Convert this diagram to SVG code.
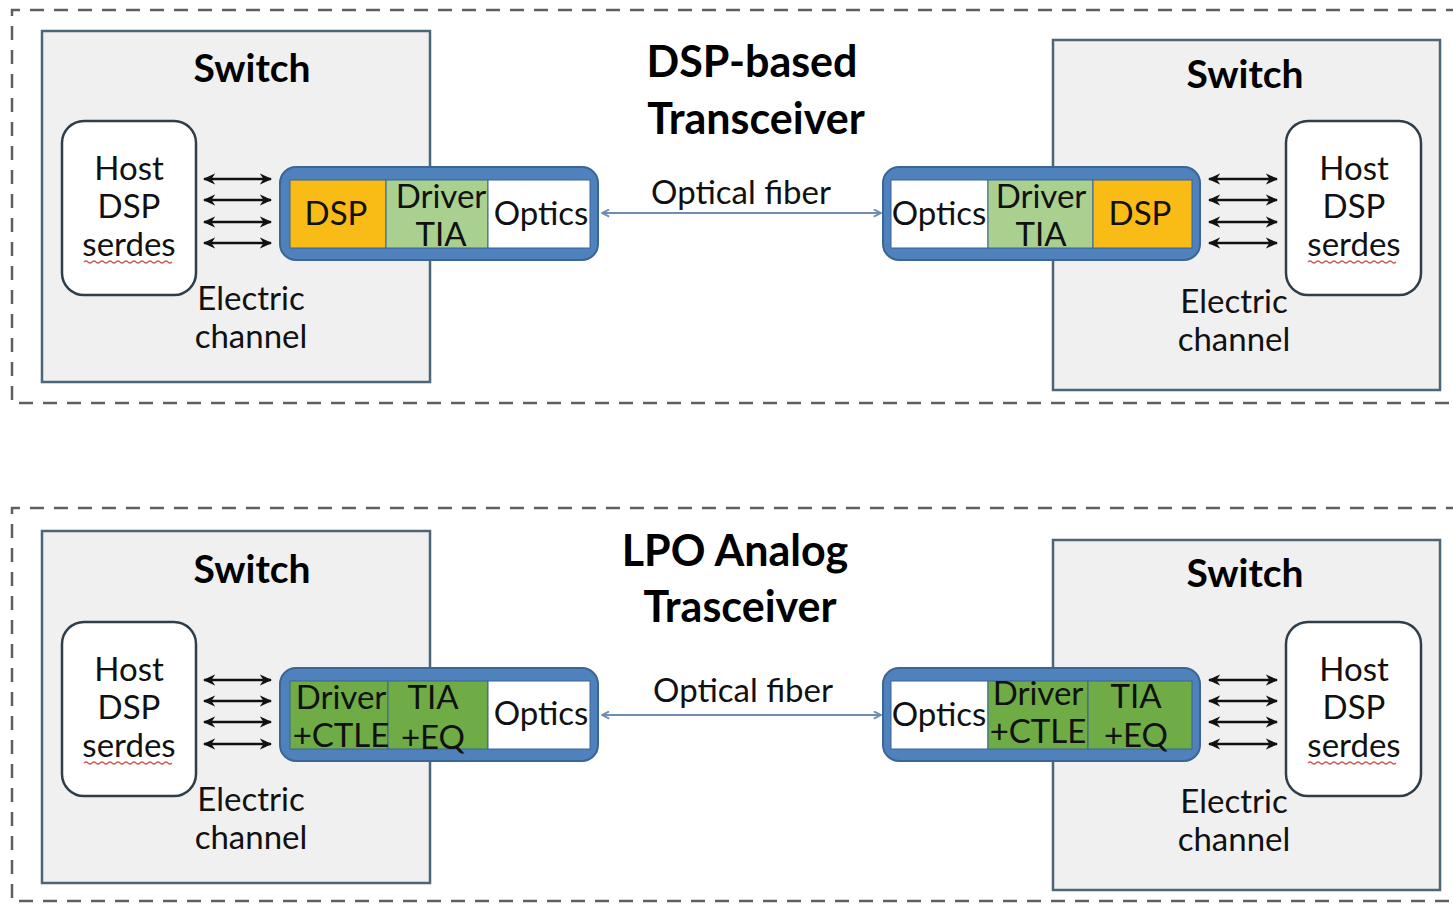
<svg xmlns="http://www.w3.org/2000/svg" width="1453" height="904" viewBox="0 0 1453 904">
<style>
.frame{fill:none;stroke:#5a5f63;stroke-width:2.5;stroke-dasharray:14 10}
.sw{fill:#f0f0f0;stroke:#4d6677;stroke-width:2.5}
.host{fill:#fff;stroke:#2e3e4a;stroke-width:2.5}
.tr{fill:#4f81bd;stroke:#3b6593;stroke-width:2}
.cell{stroke:#3b6593;stroke-width:1}
.dsp{fill:#f9bb16}
.lg{fill:#a9d08e}
.dg{fill:#6fac46}
.wh{fill:#fff}
.t{font-family:Lato,"Open Sans","Liberation Sans",sans-serif;fill:#111;text-anchor:middle;font-size:33px}
.b{font-weight:bold;fill:#000}
.h{font-size:43px}
.s{font-size:39px}
.el{stroke:#111;stroke-width:2.5;marker-start:url(#ah);marker-end:url(#ah)}
.of{stroke:#6d8eb0;stroke-width:1.8;marker-start:url(#oh);marker-end:url(#oh)}
.sq{fill:none;stroke:#d05a5a;stroke-width:1.3}
</style>
<defs>
<marker id="ah" viewBox="0 0 10 10" refX="9" refY="5" markerWidth="5" markerHeight="5" orient="auto-start-reverse" markerUnits="strokeWidth"><path d="M0,0.5 L10,5 L0,9.5 L3,5 Z" fill="#111"/></marker>
<marker id="oh" viewBox="0 0 10 10" refX="9" refY="5" markerWidth="5" markerHeight="5" orient="auto-start-reverse" markerUnits="strokeWidth"><path d="M1,1 L9,5 L1,9" fill="none" stroke="#6d8eb0" stroke-width="2"/></marker>
</defs>
<rect width="1453" height="904" fill="#fff"/>

<g id="frame-top"><path class="frame" d="M1460,10 H12 V403 H1460"/></g>
<g id="frame-bottom"><path class="frame" d="M1460,508 H12 V901 H1460"/></g>

<!-- TOP -->
<g id="title-top"><text class="t b h" x="752" y="77">DSP-based</text><text class="t b h" x="756" y="134">Transceiver</text></g>

<g id="switch-tl"><rect class="sw" x="42" y="31" width="388" height="351"/><text class="t b s" x="252" y="82">Switch</text></g>
<g id="host-tl"><rect class="host" x="62" y="121" width="134" height="174" rx="22"/>
<text class="t" x="129" y="180">Host</text><text class="t" x="129" y="218">DSP</text><text class="t" x="129" y="256">serdes</text>
<path class="sq" d="M84,262 q2,-2 4,0 t4,0 t4,0 t4,0 t4,0 t4,0 t4,0 t4,0 t4,0 t4,0 t4,0 t4,0 t4,0 t4,0 t4,0 t4,0 t4,0 t4,0 t4,0 t4,0 t4,0 t4,0"/></g>
<g id="elabel-tl"><text class="t" x="251" y="310">Electric</text><text class="t" x="251" y="348">channel</text></g>

<g id="trx-tl"><rect class="tr" x="280" y="167" width="318" height="93" rx="16"/>
<rect class="cell dsp" x="290" y="180" width="96" height="68"/><rect class="cell lg" x="386" y="180" width="102" height="68"/><rect class="cell wh" x="488" y="180" width="102" height="68"/>
<text class="t" x="336" y="225">DSP</text><text class="t" x="441" y="208">Driver</text><text class="t" x="441" y="246">TIA</text><text class="t" x="541" y="225">Optics</text></g>

<g id="switch-tr"><rect class="sw" x="1053" y="40" width="387" height="350"/><text class="t b s" x="1245" y="88">Switch</text></g>
<g id="host-tr"><rect class="host" x="1286" y="121" width="135" height="174" rx="22"/>
<text class="t" x="1354" y="180">Host</text><text class="t" x="1354" y="218">DSP</text><text class="t" x="1354" y="256">serdes</text>
<path class="sq" d="M1308,262 q2,-2 4,0 t4,0 t4,0 t4,0 t4,0 t4,0 t4,0 t4,0 t4,0 t4,0 t4,0 t4,0 t4,0 t4,0 t4,0 t4,0 t4,0 t4,0 t4,0 t4,0 t4,0 t4,0"/></g>
<g id="elabel-tr"><text class="t" x="1234" y="313">Electric</text><text class="t" x="1234" y="351">channel</text></g>

<g id="trx-tr"><rect class="tr" x="883" y="167" width="317" height="93" rx="16"/>
<rect class="cell wh" x="891" y="180" width="97" height="68"/><rect class="cell lg" x="988" y="180" width="105" height="68"/><rect class="cell dsp" x="1093" y="180" width="99" height="68"/>
<text class="t" x="939" y="225">Optics</text><text class="t" x="1041" y="208">Driver</text><text class="t" x="1041" y="246">TIA</text><text class="t" x="1140" y="225">DSP</text></g>

<g id="fiber-label-top"><text class="t" x="741" y="204">Optical fiber</text></g>

<!-- BOTTOM -->
<g id="title-bottom"><text class="t b h" x="735" y="566">LPO Analog</text><text class="t b h" x="740" y="622">Trasceiver</text></g>

<g id="switch-bl"><rect class="sw" x="42" y="531" width="388" height="352"/><text class="t b s" x="252" y="583">Switch</text></g>
<g id="host-bl"><rect class="host" x="62" y="622" width="134" height="174" rx="22"/>
<text class="t" x="129" y="681">Host</text><text class="t" x="129" y="719">DSP</text><text class="t" x="129" y="757">serdes</text>
<path class="sq" d="M84,763 q2,-2 4,0 t4,0 t4,0 t4,0 t4,0 t4,0 t4,0 t4,0 t4,0 t4,0 t4,0 t4,0 t4,0 t4,0 t4,0 t4,0 t4,0 t4,0 t4,0 t4,0 t4,0 t4,0"/></g>
<g id="elabel-bl"><text class="t" x="251" y="811">Electric</text><text class="t" x="251" y="849">channel</text></g>

<g id="trx-bl"><rect class="tr" x="280" y="668" width="318" height="93" rx="16"/>
<rect class="cell dg" x="290" y="681" width="98" height="68"/><rect class="cell dg" x="388" y="681" width="100" height="68"/><rect class="cell wh" x="488" y="681" width="102" height="68"/>
<text class="t" x="341" y="709">Driver</text><text class="t" x="341" y="747">+CTLE</text><text class="t" x="433" y="709">TIA</text><text class="t" x="433" y="749">+EQ</text><text class="t" x="541" y="725">Optics</text></g>

<g id="switch-br"><rect class="sw" x="1053" y="540" width="387" height="350"/><text class="t b s" x="1245" y="587">Switch</text></g>
<g id="host-br"><rect class="host" x="1286" y="622" width="135" height="174" rx="22"/>
<text class="t" x="1354" y="681">Host</text><text class="t" x="1354" y="719">DSP</text><text class="t" x="1354" y="757">serdes</text>
<path class="sq" d="M1308,763 q2,-2 4,0 t4,0 t4,0 t4,0 t4,0 t4,0 t4,0 t4,0 t4,0 t4,0 t4,0 t4,0 t4,0 t4,0 t4,0 t4,0 t4,0 t4,0 t4,0 t4,0 t4,0 t4,0"/></g>
<g id="elabel-br"><text class="t" x="1234" y="813">Electric</text><text class="t" x="1234" y="851">channel</text></g>

<g id="trx-br"><rect class="tr" x="883" y="668" width="317" height="93" rx="16"/>
<rect class="cell wh" x="891" y="681" width="97" height="68"/><rect class="cell dg" x="988" y="681" width="100" height="68"/><rect class="cell dg" x="1088" y="681" width="104" height="68"/>
<text class="t" x="939" y="726">Optics</text><text class="t" x="1038" y="705">Driver</text><text class="t" x="1038" y="743">+CTLE</text><text class="t" x="1136" y="708">TIA</text><text class="t" x="1136" y="747">+EQ</text></g>

<g id="fiber-label-bottom"><text class="t" x="743" y="702">Optical fiber</text></g>

<g id="connectors">
<line class="el" x1="204" y1="179" x2="271" y2="179"/><line class="el" x1="204" y1="200" x2="271" y2="200"/><line class="el" x1="204" y1="222" x2="271" y2="222"/><line class="el" x1="204" y1="243" x2="271" y2="243"/>
<line class="el" x1="1209" y1="179" x2="1277" y2="179"/><line class="el" x1="1209" y1="200" x2="1277" y2="200"/><line class="el" x1="1209" y1="222" x2="1277" y2="222"/><line class="el" x1="1209" y1="243" x2="1277" y2="243"/>
<line class="of" x1="602" y1="213" x2="881" y2="213"/>
<line class="el" x1="204" y1="680" x2="271" y2="680"/><line class="el" x1="204" y1="701" x2="271" y2="701"/><line class="el" x1="204" y1="722" x2="271" y2="722"/><line class="el" x1="204" y1="744" x2="271" y2="744"/>
<line class="el" x1="1209" y1="680" x2="1277" y2="680"/><line class="el" x1="1209" y1="701" x2="1277" y2="701"/><line class="el" x1="1209" y1="722" x2="1277" y2="722"/><line class="el" x1="1209" y1="744" x2="1277" y2="744"/>
<line class="of" x1="602" y1="715" x2="881" y2="715"/>
</g>
</svg>
